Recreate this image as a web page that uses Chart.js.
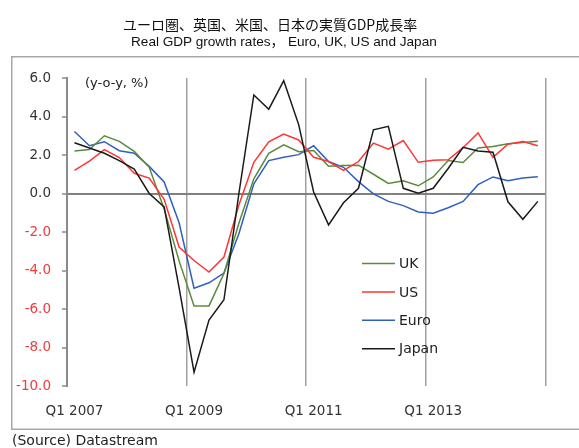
<!DOCTYPE html>
<html><head><meta charset="utf-8">
<script src="https://cdn.jsdelivr.net/npm/chart.js@4.4.1/dist/chart.umd.min.js"></script>
<style>
html,body{margin:0;padding:0;background:#fff;}
#wrap{position:relative;width:579px;height:448px;overflow:hidden;background:#fff;}
#c{position:absolute;left:0;top:0;width:579px;height:448px;}
.t{position:absolute;white-space:nowrap;color:#111;line-height:16px;}
</style></head><body>
<div id="wrap">
<canvas id="c" width="579" height="448"></canvas>
<div class="t" style="left:123px;top:16px;font-size:14px;font-family:'Noto Sans CJK JP';">ユーロ圏、英国、米国、日本の実質GDP成長率</div>
<div class="t" style="left:131px;top:32px;font-size:13.6px;font-family:'Liberation Sans';">Real GDP growth rates<span style="font-family:'Noto Sans CJK JP'">，</span> Euro, UK, US and Japan</div>
<div class="t" style="left:12px;top:432px;font-size:14px;font-family:'DejaVu Sans';color:#222;">(Source) Datastream</div>
</div>
<script>
const quarters = [
 'Q1 2007','Q2 2007','Q3 2007','Q4 2007','Q1 2008','Q2 2008','Q3 2008','Q4 2008',
 'Q1 2009','Q2 2009','Q3 2009','Q4 2009','Q1 2010','Q2 2010','Q3 2010','Q4 2010',
 'Q1 2011','Q2 2011','Q3 2011','Q4 2011','Q1 2012','Q2 2012','Q3 2012','Q4 2012',
 'Q1 2013','Q2 2013','Q3 2013','Q4 2013','Q1 2014','Q2 2014','Q3 2014','Q4 2014'
];
const yTicks = [6, 4, 2, 0, -2, -4, -6, -8, -10];
const ukGrowth = [2.21, 2.28, 3.0, 2.71, 2.19, 1.36, -0.8, -3.5, -5.84, -5.84, -4.16, -1.55, 0.76, 2.09, 2.53, 2.17,
                  2.23, 1.42, 1.45, 1.47, 1.0, 0.52, 0.66, 0.4, 0.86, 1.71, 1.61, 2.36, 2.44, 2.58, 2.65, 2.71];
const usGrowth = [1.2, 1.68, 2.28, 1.87, 1.05, 0.8, -0.3, -2.78, -3.48, -4.08, -3.3, -0.6, 1.62, 2.69, 3.09, 2.78,
                  1.88, 1.66, 1.2, 1.66, 2.62, 2.3, 2.75, 1.62, 1.73, 1.75, 2.38, 3.15, 1.88, 2.56, 2.7, 2.48];
const euroGrowth = [3.22, 2.48, 2.69, 2.22, 2.09, 1.41, 0.6, -1.52, -4.92, -4.64, -4.13, -2.09, 0.5, 1.71, 1.88, 2.02,
                    2.48, 1.66, 1.36, 0.62, -0.02, -0.41, -0.63, -0.96, -1.02, -0.74, -0.41, 0.46, 0.86, 0.66, 0.8, 0.87];
const japanGrowth = [2.64, 2.36, 2.09, 1.71, 1.27, 0.0, -0.7, -4.9, -9.28, -6.58, -5.52, 0.0, 5.12, 4.38, 5.86, 3.58,
                     0.08, -1.63, -0.48, 0.27, 3.31, 3.49, 0.27, 0.01, 0.27, 1.3, 2.4, 2.21, 2.14, -0.43, -1.34, -0.41];
const legendOrder = ['UK', 'US', 'Euro', 'Japan'];

const COL = {UK:'#5b8a3c', US:'#ff3535', Euro:'#2f5fbf', Japan:'#1a1a1a'};

const decor = {
  id:'decor',
  beforeDraw(chart){
    const ctx = chart.ctx;
    ctx.save();
    ctx.strokeStyle = '#a8a8a8';
    ctx.lineWidth = 1.5;
    ctx.strokeRect(11.75, 56.75, 640, 372.5);
    ctx.restore();
  },
  afterDraw(chart){
    const ctx = chart.ctx;
    const a = chart.chartArea;
    ctx.save();
    ctx.font = "13px 'DejaVu Sans'";
    ctx.fillStyle = '#222';
    ctx.textBaseline = 'middle';
    ctx.textAlign = 'left';
    ctx.fillText('(y-o-y, %)', a.left + 18, a.top + 6);
    ctx.font = "14px 'DejaVu Sans'";
    legendOrder.forEach((name, k) => {
      const ds = chart.data.datasets.find(d => d.label === name);
      const y = 263.5 + k * 28.4;
      ctx.strokeStyle = ds.borderColor;
      ctx.lineWidth = 1.5;
      ctx.beginPath();
      ctx.moveTo(362, y);
      ctx.lineTo(395, y);
      ctx.stroke();
      ctx.fillStyle = '#222';
      ctx.fillText(name, 399, y + 1);
    });
    ctx.restore();
  }
};

const mk = (label, data) => ({label, data, borderColor: COL[label], backgroundColor: COL[label],
  borderWidth: 1.5, pointRadius: 0, tension: 0, fill: false});

new Chart(document.getElementById('c'), {
  type: 'line',
  data: {
    labels: quarters,
    datasets: [mk('Japan', japanGrowth), mk('US', usGrowth), mk('UK', ukGrowth), mk('Euro', euroGrowth)]
  },
  options: {
    responsive: false,
    animation: false,
    devicePixelRatio: 1,
    layout: {padding: {left: 0, top: 78, right: 33.7, bottom: 0}},
    plugins: {legend: {display: false}, tooltip: {enabled: false}, title: {display: false}},
    scales: {
      x: {
        offset: true,
        afterFit(s){ s.height = 62; },
        border: {display: false},
        grid: {
          offset: true, drawTicks: false,
          color: c => (c.index === undefined || c.index % 8 === 0) ? '#a0a0a0' : 'rgba(0,0,0,0)',
          lineWidth: 1.5
        },
        ticks: {
          autoSkip: false, maxRotation: 0, minRotation: 0,
          callback: (v, i) => i % 8 === 0 ? quarters[i] : '',
          color: '#333', font: {family: 'DejaVu Sans', size: 13.5}, padding: 17
        }
      },
      y: {
        min: -10, max: 6,
        afterFit(s){ s.width = 67; },
        afterBuildTicks(s){ s.ticks = yTicks.map(v => ({value: v})); },
        border: {display: true, color: '#8a8a8a', width: 2},
        grid: {
          color: c => (c.tick && c.tick.value === 0) ? '#808080' : 'rgba(0,0,0,0)',
          lineWidth: 2, tickLength: 5, tickColor: '#8a8a8a', tickWidth: 1.5
        },
        ticks: {
          callback: v => Number(v).toFixed(1),
          color: c => c.tick.value < 0 ? '#f03c3c' : '#333',
          font: {family: 'DejaVu Sans', size: 13.5}, padding: 11
        }
      }
    }
  },
  plugins: [decor]
});
</script>
</body></html>
